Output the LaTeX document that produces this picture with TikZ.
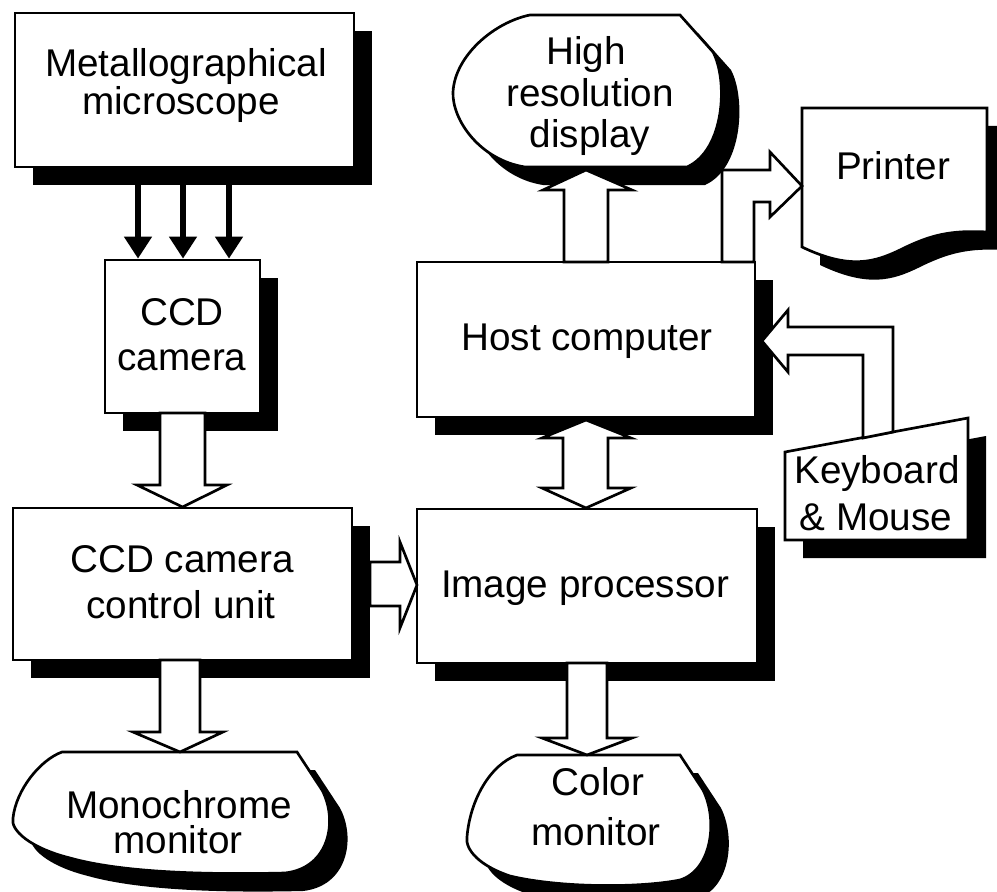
\documentclass[tikz,border=0pt]{standalone}
\usepackage{fontspec}
\setmainfont{Liberation Sans}
\usetikzlibrary{arrows.meta,fit,shadows}
\begin{document}
\begin{tikzpicture}[x=0.75pt,y=-0.75pt,line width=2pt,
  dropsh/.style={drop shadow={shadow xshift=13.5pt,shadow yshift=-13.5pt,opacity=1,fill=black}},
  boxnode/.style={draw,fill=white,inner sep=0pt,dropsh},
  blk/.style={draw,fill=white},
  lbl/.style={anchor=base,inner sep=0pt,font=\fontsize{29}{30}\selectfont},
  feedarrow/.style={line width=4.5pt,-{Triangle[width=20pt,length=16.5pt]}}]
\fill[white] (0,0) rectangle (997,892);
\useasboundingbox (0,0) rectangle (997,892);

% rectangular units
\node[boxnode,fit={(15,13) (354,167)}] (micro) {};
\node[boxnode,fit={(105,260) (260,413)}] (ccd) {};
\node[boxnode,fit={(13,508) (352,660)}] (ccu) {};
\node[boxnode,fit={(417,262) (755,417)}] (host) {};
\node[boxnode,fit={(417,509) (757,663)}] (imgp) {};

% high resolution display
\path[draw,fill=white,dropsh] (530,15) -- (680,15) -- (713,52)
  .. controls (728,80) and (725,150) .. (687,167) -- (525,167)
  .. controls (480,160) and (452,120) .. (453,92)
  .. controls (455,55) and (495,22) .. (530,15) -- cycle;

% printer (document symbol)
\path[draw,fill=white,dropsh] (802,108) -- (987,108) -- (987,232)
  .. controls (950,230) and (930,235) .. (900,250)
  .. controls (875,262) and (850,270) .. (802,247) -- cycle;

% keyboard (manual input symbol)
\path[draw,fill=white,dropsh] (785,452) -- (968,418) -- (968,540) -- (785,540) -- cycle;

% monochrome monitor
\path[draw,fill=white,dropsh] (62,752) -- (297,752) -- (322,790)
  .. controls (338,820) and (330,868) .. (285,873)
  .. controls (200,875) and (120,872) .. (70,858)
  .. controls (30,848) and (10,830) .. (13,818)
  .. controls (16,790) and (40,760) .. (62,752) -- cycle;

% color monitor
\path[draw,fill=white,dropsh] (517,755) -- (680,755) -- (703,790)
  .. controls (718,820) and (712,870) .. (680,880)
  .. controls (640,888) and (560,888) .. (510,876)
  .. controls (480,866) and (465,850) .. (467,837)
  .. controls (470,800) and (490,765) .. (517,755) -- cycle;

% optical paths from the microscope
\coordinate (a1) at (138,0);
\coordinate (a2) at (183,0);
\coordinate (a3) at (229,0);
\draw[feedarrow] (micro.south -| a1) -- (ccd.north -| a1);
\draw[feedarrow] (micro.south -| a2) -- (ccd.north -| a2);
\draw[feedarrow] (micro.south -| a3) -- (ccd.north -| a3);

% block arrows
\draw[blk] (160,413) -- (160,485) -- (137,485) -- (182.5,507) -- (227,485) -- (205,485) -- (205,413) -- cycle;
\draw[blk] (160,660) -- (160,732) -- (133,732) -- (180,752) -- (223,732) -- (200,732) -- (200,660) -- cycle;
\draw[blk] (370,562) -- (400,562) -- (400,542) -- (417,585) -- (400,628) -- (400,606) -- (370,606) -- cycle;
\draw[blk] (564,262) -- (564,190) -- (543,190) -- (586,170) -- (632,190) -- (608,190) -- (608,262) -- cycle;
\draw[blk] (586,420) -- (631,438) -- (608,438) -- (608,488) -- (631,488) -- (586,508) -- (542,488) -- (563,488) -- (563,438) -- (542,438) -- cycle;
\draw[blk] (567,663) -- (567,738) -- (542,738) -- (587,755) -- (632,738) -- (607,738) -- (607,663) -- cycle;
\draw[blk] (722,262) -- (722,170) -- (770,170) -- (770,152) -- (802,186) -- (770,217) -- (770,202) -- (754,202) -- (754,262) -- cycle;
\draw[blk] (893,432) -- (893,327) -- (788,327) -- (788,310) -- (762,341) -- (788,372) -- (788,355) -- (863,355) -- (863,438) -- cycle;

% labels
\node[lbl] (t1) at (186,77) {Metallographical};
\node[lbl] (t2) at (181,115) {microscope};
\node[lbl] (t3) at (182,325) {CCD};
\node[lbl] (t4) at (182,370) {camera};
\node[lbl] (t5) at (182,572) {CCD camera};
\node[lbl] (t6) at (181,618) {control unit};
\node[lbl] (t7) at (585,597) {Image processor};
\node[lbl] (t8) at (587,350) {Host computer};
\node[lbl] (t9) at (586,65) {High};
\node[lbl] (t10) at (590,107) {resolution};
\node[lbl] (t11) at (590,147) {display};
\node[lbl] (t12) at (893,180) {Printer};
\node[lbl] (t13) at (877,483) {Keyboard};
\node[lbl] (t14) at (876,530) {\& Mouse};
\node[lbl] (t15) at (179,818) {Monochrome};
\node[lbl] (t16) at (178,853) {monitor};
\node[lbl] (t17) at (598,795) {Color};
\node[lbl] (t18) at (596,845) {monitor};
\end{tikzpicture}
\end{document}
